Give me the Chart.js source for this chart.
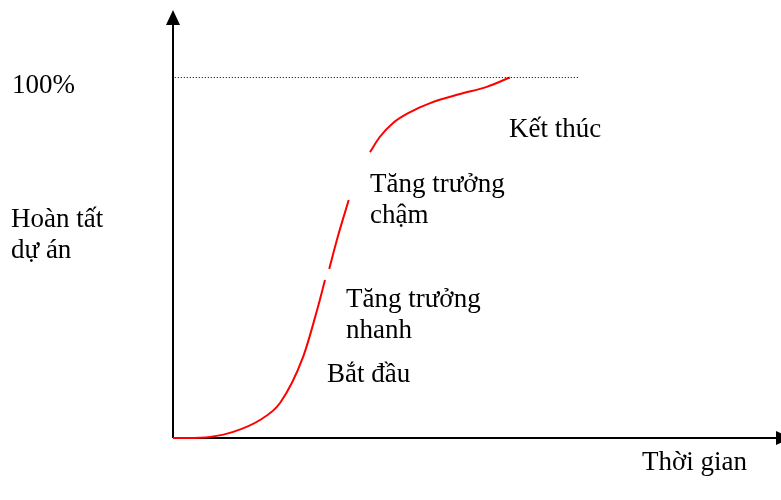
<!DOCTYPE html>
<html>
<head>
<meta charset="utf-8">
<script src="https://cdn.jsdelivr.net/npm/chart.js@4/dist/chart.umd.min.js"></script>
<style>
  html, body { margin: 0; padding: 0; background: #fff; }
  #wrap { width: 781px; height: 500px; }
</style>
</head>
<body>
<div id="wrap"><canvas id="sCurve" width="781" height="500"></canvas></div>
<script>
// Dati della curva a S (tempo %, completamento %), null = interruzione della linea
const timeValues = [0, 2.3, 6.1, 9.9, 14.3, 17.6, 21.4, 23.7, 25.0, 25.3,
                    25.7, 27.1, 28.9, 30.5,
                    32.4, 34.0, 36.2, 39.0, 42.3, 47.2, 51.6, 55.4];
const completionValues = [0, 0, 0.3, 1.7, 5.0, 9.7, 22.5, 35.5, 43.8, null,
                          46.9, 55.8, 66.0, null,
                          79.3, 83.5, 87.4, 90.4, 92.9, 95.4, 97.4, 100];

// Linea tratteggiata del 100%
const targetLineX = [0.3, 66.9];
const targetLineY = [100, 100];

// Testi
const yAxisTitle = ['Hoàn tất', 'dự án'];
const xAxisTitle = 'Thời gian';
const targetLabel = '100%';
const phaseLabels = [['Kết thúc'], ['Tăng trưởng', 'chậm'], ['Tăng trưởng', 'nhanh'], ['Bắt đầu']];

// Posizioni dei testi (pixel)
const phasePos = [[509, 137], [370, 192], [346, 307], [327, 382]];
const lineHeight = 31;
const textFont = '27px "Liberation Serif", "Times New Roman", serif';

const curveData = timeValues.map((x, i) => ({ x: x, y: completionValues[i] }));
const targetData = targetLineX.map((x, i) => ({ x: x, y: targetLineY[i] }));

// Plugin per assi con frecce e testi
const diagramPlugin = {
    id: 'diagram',
    beforeDatasetsDraw(chart) {
        const ctx = chart.ctx;
        const xs = chart.scales.x, ys = chart.scales.y;
        const x0 = xs.getPixelForValue(0);
        const y0 = ys.getPixelForValue(0);
        ctx.save();
        ctx.strokeStyle = '#000';
        ctx.fillStyle = '#000';
        ctx.lineWidth = 2;
        ctx.beginPath();
        ctx.moveTo(x0, y0);
        ctx.lineTo(x0, 20);
        ctx.moveTo(x0, y0);
        ctx.lineTo(778, y0);
        ctx.stroke();
        // freccia verticale
        ctx.beginPath();
        ctx.moveTo(x0, 10);
        ctx.lineTo(x0 - 7, 25);
        ctx.lineTo(x0 + 7, 25);
        ctx.closePath();
        ctx.fill();
        // freccia orizzontale
        ctx.beginPath();
        ctx.moveTo(791, y0);
        ctx.lineTo(776, y0 - 7);
        ctx.lineTo(776, y0 + 7);
        ctx.closePath();
        ctx.fill();
        ctx.restore();
    },
    afterDatasetsDraw(chart) {
        const ctx = chart.ctx;
        ctx.save();
        ctx.font = textFont;
        ctx.fillStyle = '#000';
        ctx.textAlign = 'left';
        ctx.textBaseline = 'alphabetic';
        ctx.fillText(targetLabel, 12, 93);
        yAxisTitle.forEach((t, i) => ctx.fillText(t, 11, 227 + i * lineHeight));
        ctx.fillText(xAxisTitle, 642, 470);
        phaseLabels.forEach((lines, k) => {
            lines.forEach((t, i) => ctx.fillText(t, phasePos[k][0], phasePos[k][1] + i * lineHeight));
        });
        ctx.restore();
    }
};

new Chart(document.getElementById('sCurve'), {
    type: 'line',
    data: {
        datasets: [
            {
                data: targetData,
                borderColor: '#000',
                borderWidth: 1,
                borderDash: [1, 2],
                pointRadius: 0,
                clip: false
            },
            {
                data: curveData,
                borderColor: '#ff0000',
                borderWidth: 2,
                pointRadius: 0,
                cubicInterpolationMode: 'monotone',
                spanGaps: false,
                clip: false
            }
        ]
    },
    options: {
        responsive: false,
        animation: false,
        events: [],
        layout: { padding: { left: 173, right: 0, top: 12, bottom: 62 } },
        plugins: { legend: { display: false }, tooltip: { enabled: false } },
        scales: {
            x: { type: 'linear', min: 0, max: 100, display: false },
            y: { type: 'linear', min: 0, max: 118.17, display: false }
        }
    },
    plugins: [diagramPlugin]
});
</script>
</body>
</html>
